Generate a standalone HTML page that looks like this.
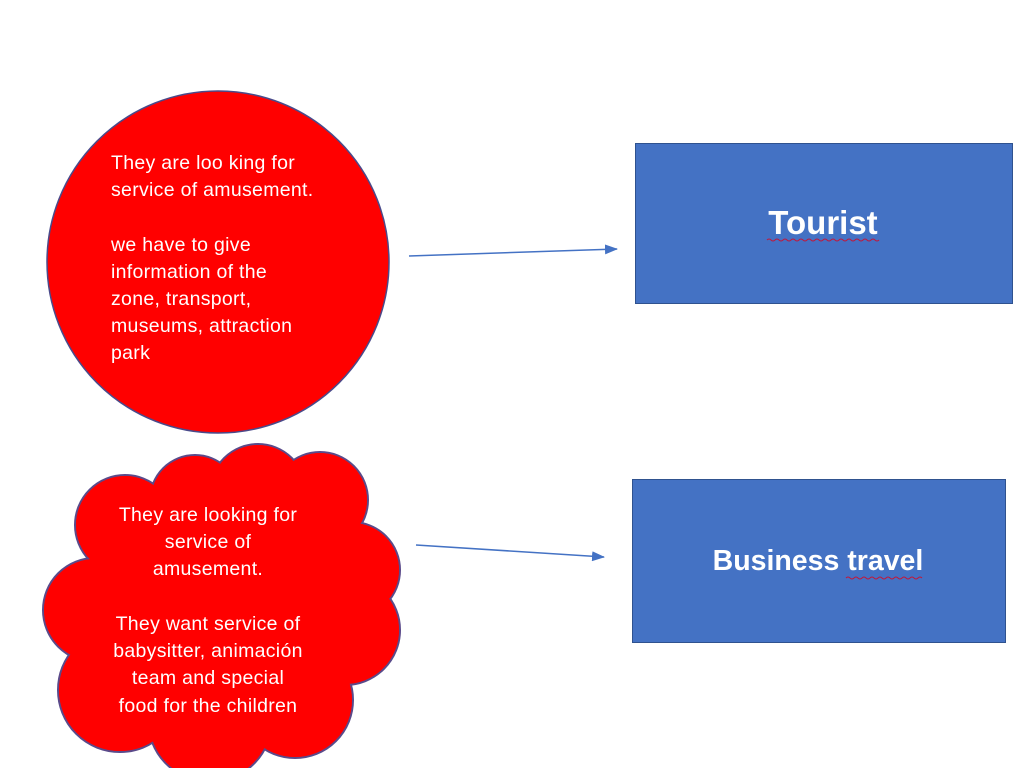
<!DOCTYPE html>
<html><head><meta charset="utf-8"><style>
html,body{margin:0;padding:0;background:#fff;}
svg{display:block;}
text{font-family:"Liberation Sans",sans-serif;}
</style></head><body>
<svg width="1024" height="768" viewBox="0 0 1024 768" xmlns="http://www.w3.org/2000/svg">
<defs>
<marker id="ah" markerWidth="13" markerHeight="10" refX="12" refY="5" orient="auto" markerUnits="userSpaceOnUse">
<path d="M0,0 L13,5 L0,10 Z" fill="#4472c4"/>
</marker>
</defs>
<rect width="1024" height="768" fill="#fff"/>
<ellipse cx="218" cy="262" rx="171" ry="171" fill="#ff0000" stroke="#4a4a8a" stroke-width="1.5"/>
<g fill="#fff" font-size="19.5" letter-spacing="0.3">
<text x="111" y="169">They are loo king for</text>
<text x="111" y="196">service of amusement.</text>
<text x="111" y="251">we have to give</text>
<text x="111" y="278">information of the</text>
<text x="111" y="305">zone, transport,</text>
<text x="111" y="332">museums, attraction</text>
<text x="111" y="359">park</text>
</g>
<g stroke="#5a4a8a" stroke-width="2" fill="#ff0000">
<circle cx="125" cy="525" r="50"/>
<circle cx="195" cy="500" r="45"/>
<circle cx="258" cy="492" r="48"/>
<circle cx="320" cy="500" r="48"/>
<circle cx="352" cy="570" r="48"/>
<circle cx="345" cy="630" r="55"/>
<circle cx="295" cy="700" r="58"/>
<circle cx="210" cy="720" r="62"/>
<circle cx="120" cy="690" r="62"/>
<circle cx="95" cy="610" r="52"/>
</g>
<g fill="#ff0000">
<circle cx="125" cy="525" r="49"/>
<circle cx="195" cy="500" r="44"/>
<circle cx="258" cy="492" r="47"/>
<circle cx="320" cy="500" r="47"/>
<circle cx="352" cy="570" r="47"/>
<circle cx="345" cy="630" r="54"/>
<circle cx="295" cy="700" r="57"/>
<circle cx="210" cy="720" r="61"/>
<circle cx="120" cy="690" r="61"/>
<circle cx="95" cy="610" r="51"/>
<circle cx="225" cy="605" r="125"/>
</g>
<g fill="#fff" font-size="19.5" letter-spacing="0.3" text-anchor="middle">
<text x="208" y="521">They are looking for</text>
<text x="208" y="548">service of</text>
<text x="208" y="575">amusement.</text>
<text x="208" y="630">They want service of</text>
<text x="208" y="657">babysitter, animación</text>
<text x="208" y="684">team  and special</text>
<text x="208" y="712">food for the children</text>
</g>
<line x1="409" y1="256" x2="617" y2="249" stroke="#4472c4" stroke-width="1.5" marker-end="url(#ah)"/>
<line x1="416" y1="545" x2="604" y2="557" stroke="#4472c4" stroke-width="1.5" marker-end="url(#ah)"/>
<rect x="635.5" y="143.5" width="377" height="160" fill="#4472c4" stroke="#2f528f" stroke-width="1"/>
<text x="823" y="234" fill="#fff" font-size="33" font-weight="bold" text-anchor="middle">Tourist</text>
<path d="M767,240 q2,-2 4,0 t4,0 t4,0 t4,0 t4,0 t4,0 t4,0 t4,0 t4,0 t4,0 t4,0 t4,0 t4,0 t4,0 t4,0 t4,0 t4,0 t4,0 t4,0 t4,0 t4,0 t4,0 t4,0 t4,0 t4,0 t4,0 t4,0 t4,0" fill="none" stroke="#c0183c" stroke-width="1"/>
<rect x="632.5" y="479.5" width="373" height="163" fill="#4472c4" stroke="#2f528f" stroke-width="1"/>
<text x="818" y="570" fill="#fff" font-size="28.5" font-weight="bold" text-anchor="middle">Business travel</text>
<path d="M846,578 q2,-2 4,0 t4,0 t4,0 t4,0 t4,0 t4,0 t4,0 t4,0 t4,0 t4,0 t4,0 t4,0 t4,0 t4,0 t4,0 t4,0 t4,0 t4,0 t4,0" fill="none" stroke="#c0183c" stroke-width="1"/>
</svg>
</body></html>
